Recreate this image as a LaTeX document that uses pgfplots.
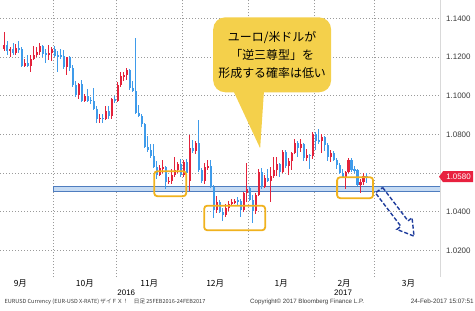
\documentclass[border=0pt]{standalone}
\usepackage{pgfplots}
\pgfplotsset{compat=1.18}
\usepackage{pgfplotstable}
\usepackage{fontspec}
\setmainfont{Liberation Sans}
\newfontfamily\jp{Noto Sans CJK JP}
\definecolor{upred}{HTML}{E3223B}
\definecolor{dnblue}{HTML}{3F9BEA}
\definecolor{gridgray}{HTML}{9A9A9A}
\definecolor{bandfill}{HTML}{C6DBF3}
\definecolor{banddraw}{HTML}{4F7DBF}
\definecolor{boxorange}{HTML}{F0B21E}
\definecolor{bubble}{HTML}{F4D04B}
\definecolor{arrownavy}{HTML}{1E3C9C}
\definecolor{tagred}{HTML}{E8213F}
\definecolor{ticktext}{HTML}{3A3A3A}

% trading-day index (0 = 3 Oct 2016), open, high, low, close
\pgfplotstableread{
i o h l c
-17 1.1240 1.1327 1.1230 1.1260
-15 1.1233 1.1250 1.1200 1.1240
-13 1.1220 1.1267 1.1210 1.1245
-10 1.1155 1.1190 1.1150 1.1170
-8 1.1155 1.1212 1.1120 1.1190
-7 1.1190 1.1257 1.1185 1.1210
-6 1.1210 1.1250 1.1200 1.1225
-5 1.1225 1.1270 1.1210 1.1255
-2 1.1215 1.1260 1.1185 1.1220
-1 1.1220 1.1250 1.1180 1.1240
4 1.1150 1.1200 1.1105 1.1200
8 1.1005 1.1065 1.0985 1.1060
10 1.0975 1.1010 1.0965 1.1000
15 1.0880 1.0905 1.0860 1.0885
17 1.0880 1.0945 1.0875 1.0920
19 1.0895 1.0990 1.0880 1.0985
21 1.0975 1.1070 1.0965 1.1055
22 1.1055 1.1125 1.1045 1.1100
23 1.1100 1.1125 1.1075 1.1105
24 1.1105 1.1145 1.1080 1.1135
35 1.0590 1.0640 1.0585 1.0625
36 1.0625 1.0665 1.0600 1.0630
38 1.0555 1.0580 1.0545 1.0560
39 1.0560 1.0620 1.0545 1.0590
40 1.0590 1.0685 1.0580 1.0615
41 1.0615 1.0655 1.0600 1.0645
43 1.0590 1.0665 1.0580 1.0655
45 1.0560 1.0796 1.0505 1.0730
47 1.0715 1.0765 1.0700 1.0755
50 1.0560 1.0650 1.0545 1.0630
51 1.0630 1.0670 1.0615 1.0635
54 1.0410 1.0480 1.0395 1.0450
57 1.0385 1.0440 1.0375 1.0420
58 1.0420 1.0455 1.0405 1.0440
59 1.0440 1.0465 1.0430 1.0450
60 1.0450 1.0465 1.0440 1.0455
63 1.0410 1.0500 1.0400 1.0495
64 1.0495 1.0653 1.0450 1.0520
67 1.0405 1.0495 1.0390 1.0485
68 1.0485 1.0620 1.0480 1.0605
70 1.0530 1.0590 1.0520 1.0575
72 1.0560 1.0630 1.0450 1.0585
73 1.0585 1.0685 1.0575 1.0615
74 1.0615 1.0685 1.0585 1.0645
76 1.0605 1.0720 1.0600 1.0710
78 1.0635 1.0680 1.0590 1.0660
79 1.0660 1.0710 1.0615 1.0705
80 1.0705 1.0775 1.0700 1.0755
82 1.0730 1.0775 1.0710 1.0750
84 1.0680 1.0725 1.0660 1.0695
86 1.0690 1.0810 1.0675 1.0800
89 1.0765 1.0800 1.0705 1.0785
92 1.0685 1.0720 1.0655 1.0705
97 1.0575 1.0610 1.0520 1.0605
98 1.0605 1.0680 1.0600 1.0670
102 1.0540 1.0570 1.0495 1.0555
103 1.0555 1.0600 1.0540 1.0585
}\up

\pgfplotstableread{
i o h l c
-16 1.1260 1.1285 1.1210 1.1233
-14 1.1240 1.1270 1.1212 1.1220
-12 1.1245 1.1285 1.1220 1.1240
-11 1.1240 1.1250 1.1150 1.1155
-9 1.1170 1.1210 1.1150 1.1155
-4 1.1255 1.1260 1.1200 1.1215
-3 1.1218 1.1240 1.1170 1.1215
0 1.1240 1.1255 1.1200 1.1205
1 1.1210 1.1230 1.1125 1.1205
2 1.1208 1.1240 1.1190 1.1205
3 1.1205 1.1235 1.1140 1.1150
5 1.1200 1.1205 1.1130 1.1145
6 1.1145 1.1160 1.1045 1.1055
7 1.1055 1.1075 1.0995 1.1005
9 1.1060 1.1080 1.0965 1.0975
11 1.1000 1.1035 1.0965 1.0975
12 1.0978 1.0995 1.0955 1.0975
13 1.0975 1.1040 1.0925 1.0930
14 1.0930 1.0945 1.0860 1.0880
16 1.0885 1.0905 1.0860 1.0880
18 1.0920 1.0945 1.0880 1.0895
20 1.0985 1.1000 1.0960 1.0975
25 1.1135 1.1140 1.1030 1.1040
26 1.1040 1.1075 1.1020 1.1025
27 1.1025 1.1300 1.0905 1.0910
28 1.0910 1.0950 1.0890 1.0895
29 1.0895 1.0905 1.0840 1.0855
30 1.0855 1.0860 1.0730 1.0735
31 1.0735 1.0790 1.0710 1.0720
32 1.0720 1.0750 1.0680 1.0690
33 1.0690 1.0750 1.0625 1.0630
34 1.0630 1.0660 1.0570 1.0590
37 1.0630 1.0635 1.0520 1.0555
42 1.0645 1.0670 1.0580 1.0590
44 1.0655 1.0675 1.0590 1.0600
46 1.0730 1.0770 1.0705 1.0715
48 1.0755 1.0874 1.0605 1.0615
49 1.0615 1.0625 1.0550 1.0560
52 1.0635 1.0665 1.0525 1.0530
53 1.0530 1.0540 1.0365 1.0410
55 1.0450 1.0460 1.0395 1.0400
56 1.0400 1.0420 1.0352 1.0385
61 1.0458 1.0475 1.0430 1.0455
62 1.0455 1.0465 1.0375 1.0410
65 1.0520 1.0530 1.0455 1.0460
66 1.0460 1.0485 1.0340 1.0405
69 1.0605 1.0625 1.0520 1.0530
71 1.0575 1.0620 1.0555 1.0560
75 1.0645 1.0650 1.0580 1.0605
77 1.0710 1.0720 1.0625 1.0635
81 1.0755 1.0765 1.0685 1.0730
83 1.0750 1.0755 1.0660 1.0680
85 1.0695 1.0700 1.0620 1.0690
87 1.0800 1.0810 1.0720 1.0765
88 1.0770 1.0829 1.0750 1.0765
90 1.0785 1.0790 1.0715 1.0745
91 1.0745 1.0755 1.0660 1.0685
93 1.0705 1.0715 1.0660 1.0665
94 1.0665 1.0680 1.0620 1.0640
95 1.0640 1.0650 1.0595 1.0600
96 1.0600 1.0620 1.0575 1.0575
99 1.0670 1.0680 1.0605 1.0615
100 1.0618 1.0635 1.0600 1.0615
101 1.0615 1.0620 1.0535 1.0540
104 1.0585 1.0600 1.0550 1.0580
}\dn

\pgfplotsset{
  wick/.style={draw=none, mark=none, forget plot,
    error bars/.cd, y dir=both, y explicit, error mark=none,
    error bar style={draw=#1, line width=0.7bp}},
  body/.style={draw=none, mark=none, forget plot,
    error bars/.cd, y dir=both, y explicit, error mark=none,
    error bar style={draw=#1, line width=2.2bp}},
}

\begin{document}
\begin{tikzpicture}
\begin{axis}[
  name=ax, scale only axis, width=440bp, height=277bp,
  xmin=-18.17, xmax=128.5, ymin=1.00615, ymax=1.1493,
  axis line style={draw=none},
  major tick length=0, minor tick length=0,
  xtick={-11.5,10,31.5,53.5,75.5,96.5,118},
  xticklabels={9月,10月,11月,12月,1月,2月,3月},
  xticklabel style={font=\jp\fontsize{8.5}{9}\selectfont, text=black, anchor=north, inner sep=0pt, yshift=-2bp},
  minor xtick={-0.5,20.5,42.5,64.5,86.5,106.5},
  xminorgrids,
  ytick={1.02,1.04,1.06,1.08,1.10,1.12,1.14},
  yticklabels={1.0200,1.0400,{},1.0800,1.1000,1.1200,1.1400},
  ymajorgrids,
  major grid style={draw=gridgray, line width=0.7bp, dash pattern=on 1bp off 2bp},
  minor grid style={draw=gridgray, line width=0.7bp, dash pattern=on 1bp off 2bp},
  yticklabel pos=right,
  yticklabel style={font=\fontsize{8}{9}\selectfont, text=ticktext,
    anchor=west, inner sep=0pt, xshift=6bp},
]
% support band
\filldraw[fill=bandfill, draw=banddraw, line width=0.8bp]
  (axis cs:-0.5,1.0503) rectangle (axis cs:128.5,1.0529);

\addplot[wick=upred] table[x=i, y expr={(\thisrow{h}+\thisrow{l})/2}, y error expr={(\thisrow{h}-\thisrow{l})/2}] {\up};
\addplot[body=upred] table[x=i, y expr={(\thisrow{o}+\thisrow{c})/2}, y error expr={max(abs(\thisrow{c}-\thisrow{o})/2,0.00025)}] {\up};
\addplot[wick=dnblue] table[x=i, y expr={(\thisrow{h}+\thisrow{l})/2}, y error expr={(\thisrow{h}-\thisrow{l})/2}] {\dn};
\addplot[body=dnblue] table[x=i, y expr={(\thisrow{o}+\thisrow{c})/2}, y error expr={max(abs(\thisrow{c}-\thisrow{o})/2,0.00025)}] {\dn};

% highlight boxes
\draw[boxorange, line width=1.8bp, rounded corners=3bp] (axis cs:33.17,1.0609) rectangle (axis cs:43.83,1.0480);
\draw[boxorange, line width=1.8bp, rounded corners=3bp] (axis cs:49.83,1.0431) rectangle (axis cs:70.17,1.0304);
\draw[boxorange, line width=1.8bp, rounded corners=3bp] (axis cs:94.17,1.0578) rectangle (axis cs:106.17,1.0470);
\end{axis}

\begin{scope}[shift={(ax.north west)}, x=1bp, y=-1bp]
  % right edge
  \draw[gray!30, line width=0.5bp] (440,0) -- (440,277);
  % callout
  \fill[bubble, rounded corners=12bp] (213,17) rectangle (331,92);
  \fill[bubble] (232,88) -- (264,88) -- (260,148) -- cycle;
  \node[font=\jp\fontsize{12}{12}\selectfont, inner sep=0pt] at (272,37) {ユーロ/米ドルが};
  \node[font=\jp\fontsize{12}{12}\selectfont, inner sep=0pt] at (272,55) {「逆三尊型」を};
  \node[font=\jp\fontsize{12}{12}\selectfont, inner sep=0pt] at (272,73) {形成する確率は低い};
  % dashed arrow
  \draw[arrownavy, line width=1.4bp, dash pattern=on 4bp off 2bp, line join=miter]
    (382.6,187.3) -- (408.0,220.7) -- (412.0,217.6) -- (414,236) -- (396.8,229.2) -- (400.8,226.1) -- (375.4,192.7) -- cycle;
  % price tag
  \fill[tagred] (439,176.5) -- (443,171) -- (473,171) -- (473,182) -- (443,182) -- cycle;
  \node[font=\fontsize{8}{9}\selectfont, text=white, inner sep=0pt] at (458.5,176.6) {1.0580};
  % years
  \node[font=\fontsize{8}{9}\selectfont, inner sep=0pt] at (126,293) {2016};
  \node[font=\fontsize{8}{9}\selectfont, inner sep=0pt] at (343,293) {2017};
  % footer
  \node[anchor=west, inner sep=0pt, text=ticktext] at (4,301.5) {\resizebox{201bp}{!}{\jp\fontsize{5}{6}\selectfont EURUSD Currency (EUR-USD X-RATE) ザイＦＸ！\quad 日足 25FEB2016-24FEB2017}};
  \node[inner sep=0pt, text=ticktext] at (307,301.5) {\resizebox{114bp}{!}{\fontsize{5}{6}\selectfont Copyright© 2017 Bloomberg Finance L.P.}};
  \node[anchor=east, inner sep=0pt, text=ticktext] at (474,301.5) {\resizebox{63bp}{!}{\fontsize{5}{6}\selectfont 24-Feb-2017 15:07:51}};
\end{scope}
\path[use as bounding box] (ax.north west) rectangle ([xshift=475bp,yshift=-310bp]ax.north west);
\end{tikzpicture}
\end{document}
